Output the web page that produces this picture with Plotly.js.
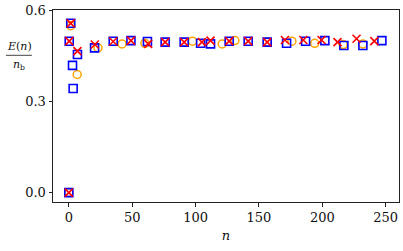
<!DOCTYPE html>
<html>
<head>
<meta charset="utf-8">
<script src="https://cdn.plot.ly/plotly-3.0.1.min.js"></script>
<style>html,body{margin:0;padding:0;background:#fff;}#chart{width:403px;height:251px;}</style>
</head>
<body>
<div id="chart"></div>
<script>
// Blue squares
const squareN = [0, 0.3, 1.5, 2.9, 3.4, 6.8, 20.3, 35, 49, 62, 76, 91, 104, 111.8, 126.5, 141.5, 156.5, 171.8, 186.8, 202, 217, 232, 247];
const squareE = [0, 0.5, 0.559, 0.42, 0.344, 0.456, 0.478, 0.5, 0.502, 0.499, 0.497, 0.497, 0.493, 0.491, 0.5, 0.5, 0.497, 0.493, 0.5, 0.502, 0.486, 0.486, 0.502];
// Red crosses
const crossN = [0, 0.3, 1.5, 6.8, 20.5, 35, 49, 62.6, 76, 91, 105, 111.8, 126.5, 141.5, 156.5, 170.5, 185, 199.4, 212, 227, 241];
const crossE = [0, 0.5, 0.559, 0.467, 0.489, 0.499, 0.502, 0.491, 0.497, 0.497, 0.497, 0.502, 0.5, 0.5, 0.497, 0.504, 0.504, 0.504, 0.497, 0.508, 0.5];
// Orange circles
const circleN = [0, 1.5, 6.6, 23, 42, 60, 97.6, 121, 131, 156.5, 176, 194, 216.5, 232];
const circleE = [0, 0.551, 0.39, 0.478, 0.491, 0.493, 0.5, 0.491, 0.502, 0.497, 0.5, 0.493, 0.489, 0.491];

const xTicks = [0, 50, 100, 150, 200, 250];
const yTicks = [0.0, 0.3, 0.6];
const yTickText = ['0.0', '0.3', '0.6'];

const serif = 'DejaVu Serif';

const traces = [
  {x: circleN, y: circleE, mode: 'markers', type: 'scatter',
   marker: {symbol: 'circle-open', size: 8, color: '#ffa500', line: {width: 1.5, color: '#ffa500'}}},
  {x: squareN, y: squareE, mode: 'markers', type: 'scatter',
   marker: {symbol: 'square-open', size: 8, color: '#0000ff', line: {width: 1.6, color: '#0000ff'}}},
  {x: crossN, y: crossE, mode: 'markers', type: 'scatter',
   marker: {symbol: 'x-thin-open', size: 8, color: '#ff0000', line: {width: 1.6, color: '#ff0000'}}}
];

const axisCommon = {
  showgrid: false, zeroline: false, showline: true, mirror: true,
  linecolor: '#222', linewidth: 1, ticks: 'outside', ticklen: 3.5, tickwidth: 1, tickcolor: '#222',
  tickfont: {family: serif, size: 13, color: '#111'}
};

const layout = {
  width: 403, height: 251,
  margin: {l: 53, r: 4, t: 10, b: 49},
  paper_bgcolor: '#fff', plot_bgcolor: '#fff',
  showlegend: false,
  font: {family: serif},
  xaxis: Object.assign({}, axisCommon, {
    range: [-12.5, 260.5], tickvals: xTicks, ticktext: xTicks.map(String),
    title: {text: '<i>n</i>', font: {family: serif, size: 13, color: '#111'}, standoff: 6}
  }),
  yaxis: Object.assign({}, axisCommon, {
    range: [-0.031, 0.603], tickvals: yTicks, ticktext: yTickText
  }),
  annotations: [
    {xref: 'paper', yref: 'paper', x: -0.098, y: 0.765, xanchor: 'center', yanchor: 'bottom',
     text: '<i>E</i>(<i>n</i>)', showarrow: false, font: {family: serif, size: 11, color: '#111'}},
    {xref: 'paper', yref: 'paper', x: -0.098, y: 0.762, xanchor: 'center', yanchor: 'top',
     text: '<i>n</i><sub>b</sub>', showarrow: false, font: {family: serif, size: 11, color: '#111'}}
  ],
  shapes: [
    {type: 'line', xref: 'paper', yref: 'paper', x0: -0.136, x1: -0.061, y0: 0.764, y1: 0.764,
     line: {color: '#111', width: 0.8}}
  ]
};

Plotly.newPlot('chart', traces, layout, {staticPlot: true, displayModeBar: false});
</script>
</body>
</html>
